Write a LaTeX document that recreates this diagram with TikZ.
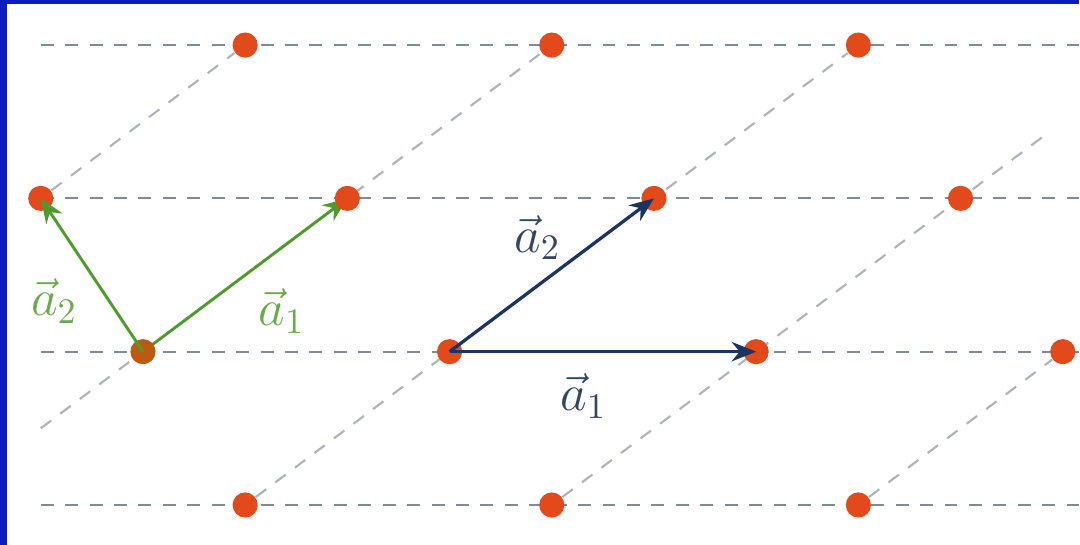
\documentclass[tikz,border=0pt]{standalone}
\usetikzlibrary{positioning,arrows.meta,backgrounds}

\definecolor{siteorange}{HTML}{E2491B}
\definecolor{sitebrown}{HTML}{BC5A12}
\definecolor{vecgreen}{HTML}{4F9A2C}
\definecolor{labgreen}{HTML}{6BAA4C}
\definecolor{vecblue}{HTML}{1B3462}
\definecolor{labblue}{HTML}{34465E}
\definecolor{frameblue}{HTML}{0A1EBE}
\definecolor{rowgray}{HTML}{7E8A96}
\definecolor{diaggray}{HTML}{AEB4BA}

\begin{document}
\begin{tikzpicture}[
  site/.style={circle, fill=siteorange, inner sep=0pt, minimum size=7pt},
  hline/.style={dash pattern=on 3.6pt off 3.2pt, line width=0.6pt, rowgray},
  dline/.style={dash pattern=on 3.6pt off 3.2pt, line width=0.6pt, diaggray},
  gvec/.style={-{Stealth[length=2.4mm, width=1.9mm]}, line width=0.8pt, vecgreen},
  bvec/.style={-{Stealth[length=2.4mm, width=1.9mm]}, line width=0.9pt, vecblue},
  glab/.style={text=labgreen, font=\Large},
  blab/.style={text=labblue, font=\Large},
]
  % lattice sites, rows A (top) to D (bottom)
  \foreach \name/\x/\y in {A1/-2/3, A2/1/3, A3/4/3,
                           B1/-4/1.5, B2/-1/1.5, B3/2/1.5, B4/5/1.5,
                           C2/0/0, C3/3/0, C4/6/0,
                           D1/-2/-1.5, D2/1/-1.5, D3/4/-1.5}
    \node[site] (\name) at (\x,\y) {};
  \node[site, fill=sitebrown] (C1) at (-3,0) {};

  \begin{scope}[on background layer]
    % frame
    \fill[frameblue] (-4.399,-1.887) rectangle (6.158,3.441);
    \fill[white] (-4.33,-1.887) rectangle (6.158,3.40);
    % lattice lines
    \foreach \y in {3,1.5,0,-1.5}
      \draw[hline] (-4,\y) -- (6.158,\y);
    \draw[dline] (B1) -- (A1);
    \draw[dline] (-4,-0.75) -- (A2);
    \draw[dline] (D1) -- (A3);
    \draw[dline] (D2) -- (5.84,2.13);
    \draw[dline] (D3) -- (C4);
    \draw[gvec] (C1.center) -- node[glab, pos=0.5, below right=0mm and 0mm] {$\vec{a}_1$} (B2.center);
  \end{scope}

  % primitive vectors
  \draw[gvec] (C1.center) -- node[glab, pos=0.33, left=1.8mm] {$\vec{a}_2$} (B1.center);
  \draw[bvec] (C2.center) -- node[blab, pos=0.43, above=1.2mm] {$\vec{a}_2$} (B3.center);
  \draw[bvec] (C2.center) -- node[blab, pos=0.437, below=0.8mm] {$\vec{a}_1$} (C3.center);
\end{tikzpicture}
\end{document}
